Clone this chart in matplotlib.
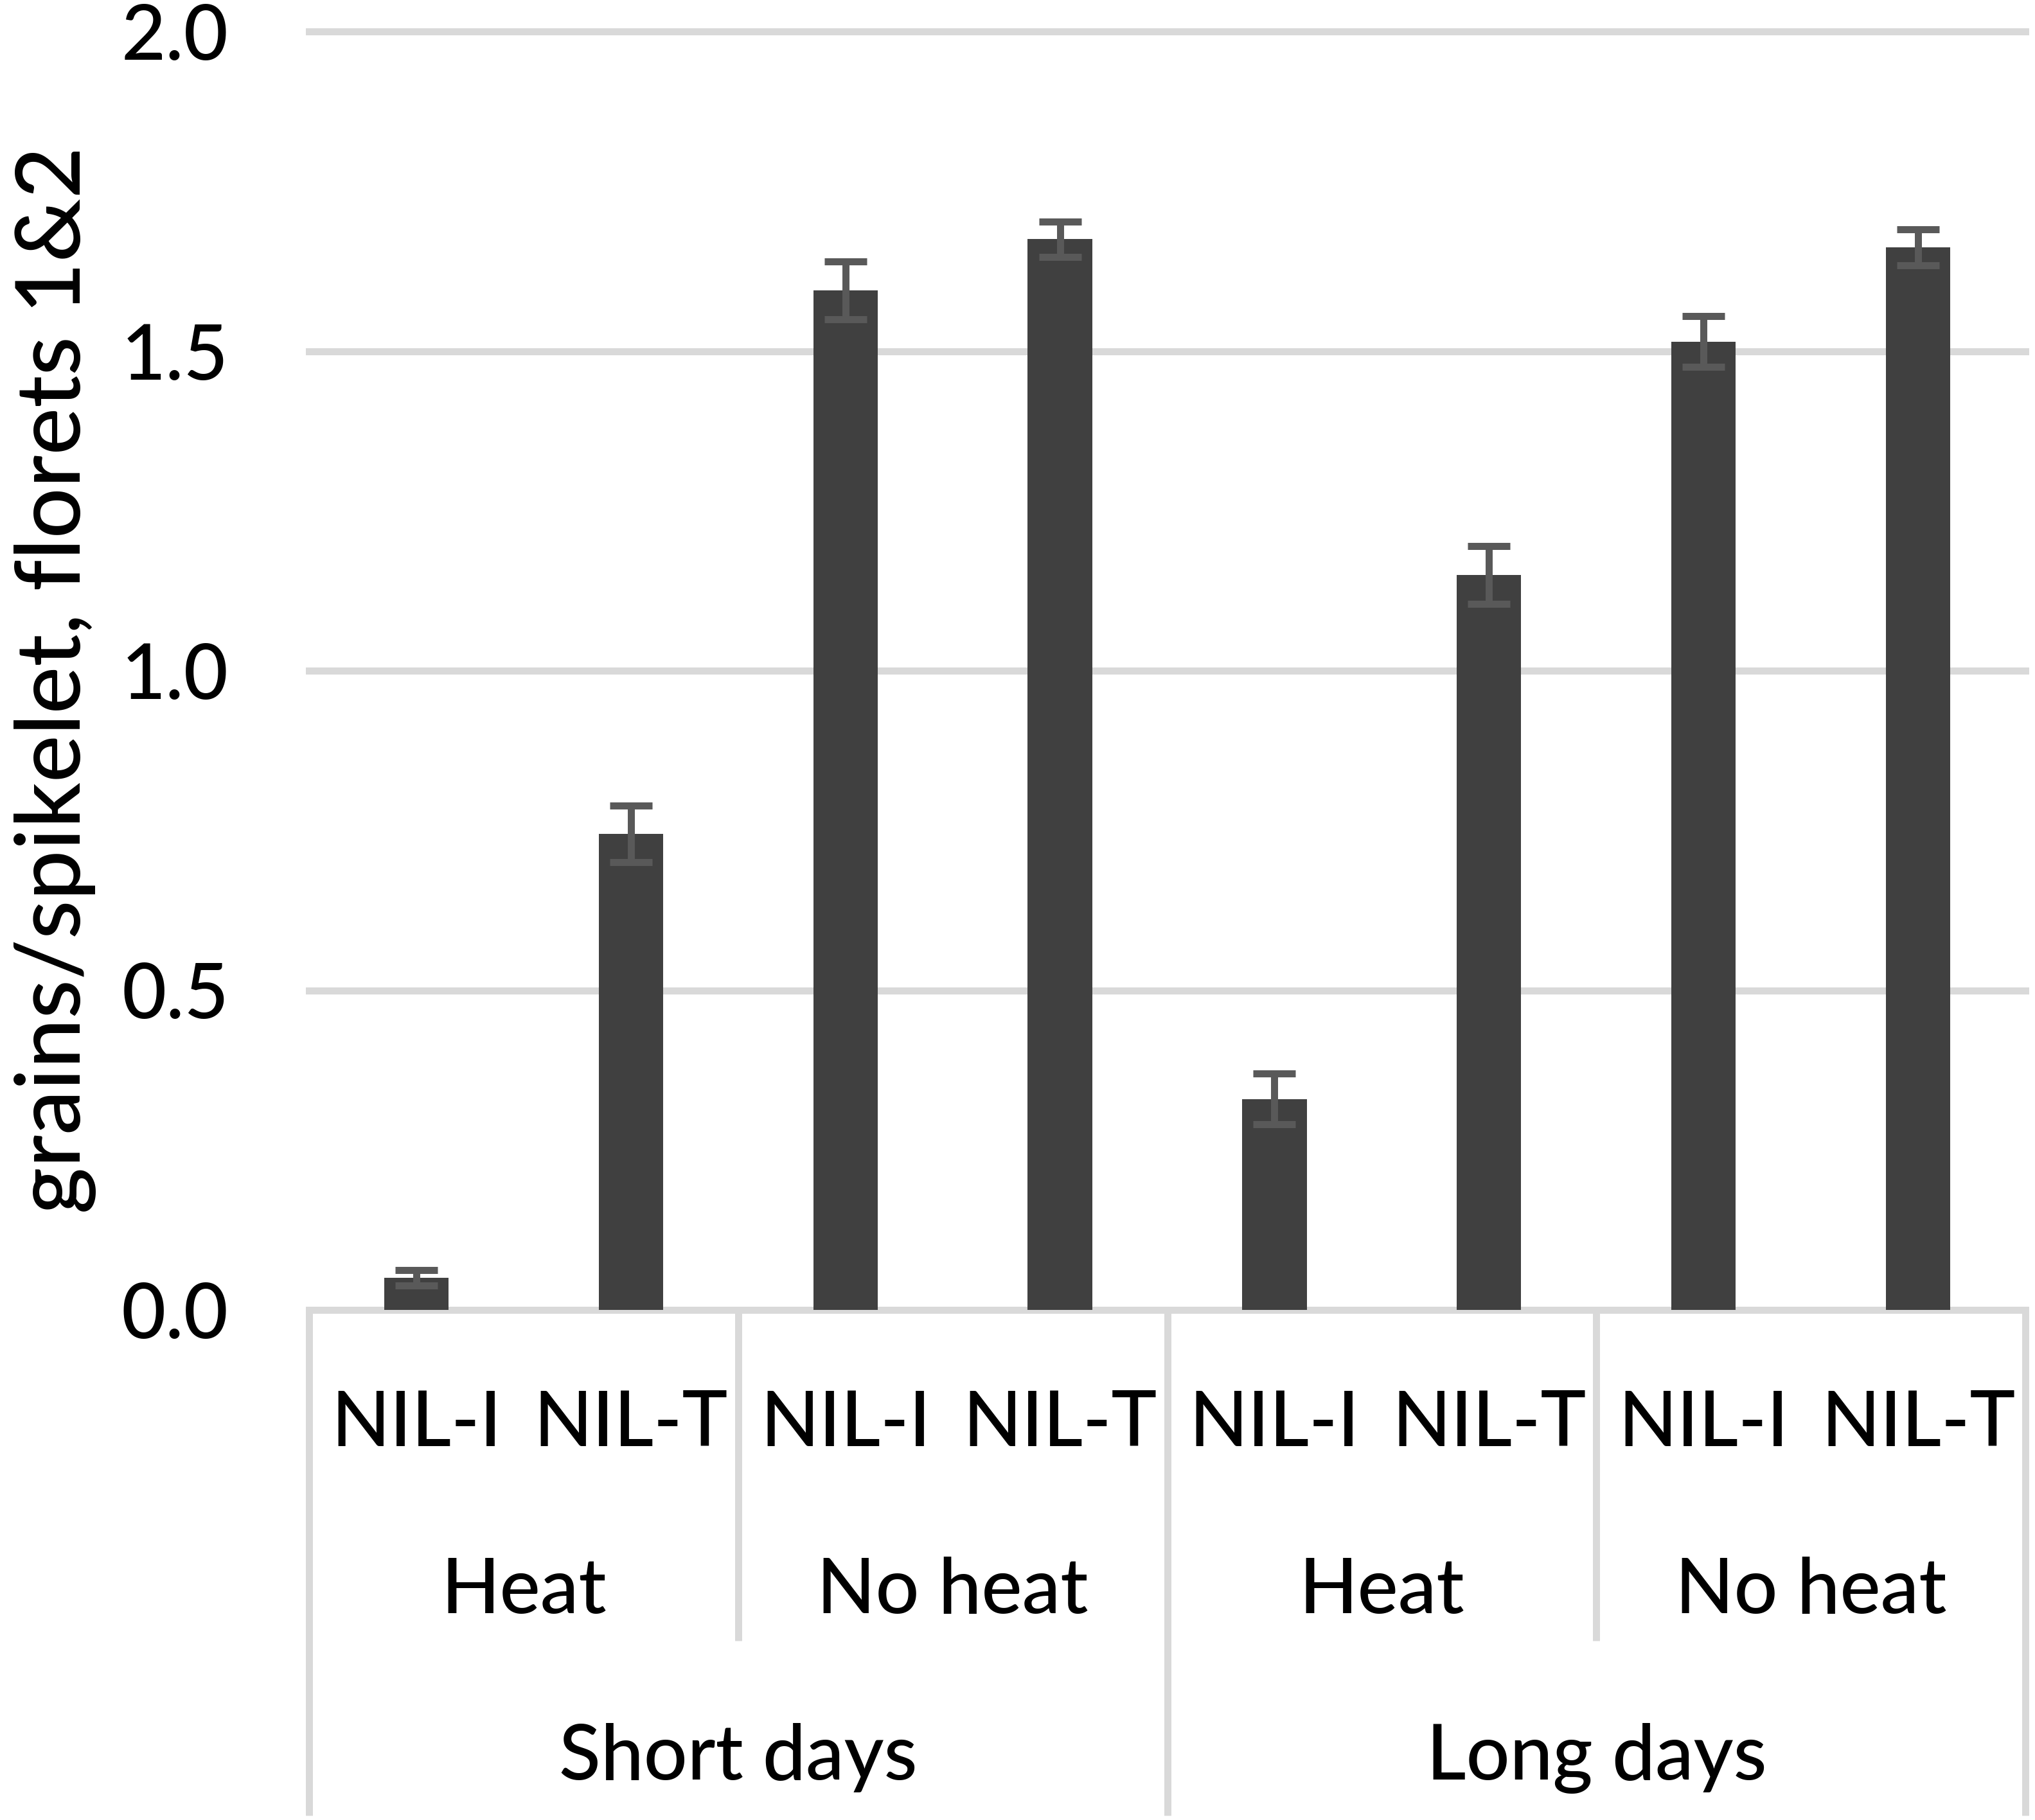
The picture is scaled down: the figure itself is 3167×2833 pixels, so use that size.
import matplotlib
matplotlib.use("Agg")
import matplotlib.pyplot as plt
import matplotlib.transforms as mtransforms
import numpy as np

# ---- data ----
genotypes = ["NIL-I", "NIL-T", "NIL-I", "NIL-T", "NIL-I", "NIL-T", "NIL-I", "NIL-T"]
treatments = ["Heat", "No heat", "Heat", "No heat"]
daylengths = ["Short days", "Long days"]
values = [0.05, 0.745, 1.595, 1.675, 0.33, 1.15, 1.515, 1.662]
errors = [0.012, 0.044, 0.045, 0.028, 0.04, 0.045, 0.04, 0.028]
yticks = [0.0, 0.5, 1.0, 1.5, 2.0]
ylabel = "grains/spikelet, florets 1&2"

plt.rcParams['font.family'] = ['Lato', 'DejaVu Sans']
plt.rcParams['font.weight'] = 500

W, H = 3167, 2833
fig = plt.figure(figsize=(W / 100, H / 100), dpi=100)
left, right = 481 / W, 3152 / W
bottom, top = 1 - 2039 / H, 1 - 49 / H
ax = fig.add_axes([left, bottom, right - left, top - bottom])

grid_c = "#d9d9d9"
lw = 7.9
x = np.arange(len(values))

ax.set_xlim(-0.5, len(values) - 0.5)
ax.set_ylim(0, 2.0)

for t in yticks:
    ax.axhline(t, color=grid_c, lw=lw, zorder=0, clip_on=False)

ax.bar(x, values, width=0.30, color="#404040", zorder=2)
ax.errorbar(x, values, yerr=errors, fmt="none", ecolor="#595959",
            elinewidth=lw, capsize=24, capthick=lw, zorder=3)

for s in ax.spines.values():
    s.set_visible(False)
ax.set_xticks([])
ax.set_yticks(yticks)
ax.set_yticklabels([f"{t:.1f}" for t in yticks])
ax.tick_params(axis="y", length=0, pad=90, labelsize=86)

trans = mtransforms.blended_transform_factory(ax.transData, ax.transAxes)
fs = 86
y1, y2, y3 = -0.1065, -0.2372, -0.3673
for i, g in enumerate(genotypes):
    ax.text(i, y1, g, transform=trans, ha="center", va="baseline", fontsize=fs)
for j, tr in enumerate(treatments):
    ax.text(2 * j + 0.5, y2, tr, transform=trans, ha="center", va="baseline", fontsize=fs)
for k, d in enumerate(daylengths):
    ax.text(4 * k + 1.5, y3, d, transform=trans, ha="center", va="baseline", fontsize=fs)

# separators
for xb in [1.5, 5.5]:
    ax.plot([xb, xb], [0, -0.2588], transform=trans, color=grid_c, lw=lw,
            clip_on=False, solid_capstyle="butt")
for xb in [-0.5, 3.5, 7.5]:
    ax.plot([xb, xb], [0, -0.3955], transform=trans, color=grid_c, lw=lw,
            clip_on=False, solid_capstyle="butt")

fig.text(86 / W, 1 - 1058 / H, ylabel, rotation=90, ha="center", va="center",
         fontsize=100)

fig.savefig("out.png", dpi=100, facecolor="white")
